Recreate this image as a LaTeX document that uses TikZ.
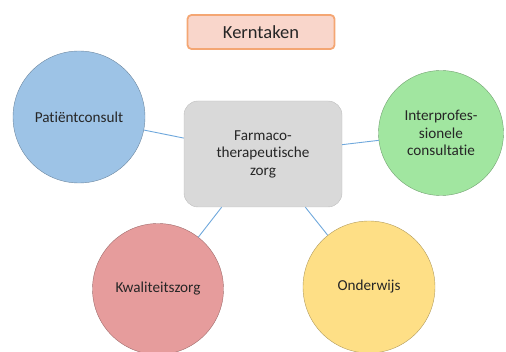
\documentclass[tikz,border=0pt]{standalone}
\usepackage{fontspec}
\setmainfont{Carlito}[Ligatures={NoCommon}]
\usetikzlibrary{positioning}
\definecolor{kfill}{HTML}{F9D6CB}
\definecolor{kline}{HTML}{F4A673}
\definecolor{cbox}{HTML}{D9D9D9}
\definecolor{cboxl}{HTML}{BDBDBD}
\definecolor{blu}{HTML}{9DC3E6}
\definecolor{grn}{HTML}{A1E6A0}
\definecolor{rd}{HTML}{E69C9C}
\definecolor{ylw}{HTML}{FEDF86}
\definecolor{lnk}{HTML}{6FA8DC}
\tikzset{
  titel/.style = {rectangle, rounded corners=4pt, draw=kline, fill=kfill,
                  line width=1.8pt, minimum width=147pt, minimum height=34pt,
                  font=\fontsize{18.5}{21}\selectfont, text=black!85},
  kern/.style  = {rectangle, rounded corners=14pt, draw=cboxl, fill=cbox,
                  minimum width=158pt, minimum height=106pt, align=center,
                  font=\fontsize{15.2}{17.5}\selectfont, text=black!85},
  taak/.style  = {circle, draw=#1!70!black, fill=#1, inner sep=0pt,
                  minimum size=132pt, align=center,
                  font=\fontsize{15.2}{17.5}\selectfont, text=black!85},
  lnk/.style   = {draw=lnk, line width=0.9pt},
}
\begin{document}
\begin{tikzpicture}[x=1pt, y=-1pt]
  \useasboundingbox (0,0) rectangle (506,352);

  \node[titel]                          (kt)   at (261,32)  {Kerntaken};
  \node[kern]                           (fz)   at (263,154) {Farmaco-\\therapeutische\\zorg};
  \node[taak=blu]                       (pc)   at (79,117)  {Patiëntconsult};
  \node[taak=grn, minimum size=125pt]   (ipc)  at (441,133) {Interprofes-\\sionele\\consultatie};
  \node[taak=rd, minimum size=131pt]    (kwz)  at (158,289) {Kwaliteitszorg};
  \node[taak=ylw]                       (ow)   at (369,287) {Onderwijs};

  % verbindingen
  \draw[lnk] (pc)  -- (fz);
  \draw[lnk] (ipc) -- (fz);
  \draw[lnk] (kwz) -- (fz);
  \draw[lnk] (ow)  -- (fz);

\end{tikzpicture}
\end{document}
